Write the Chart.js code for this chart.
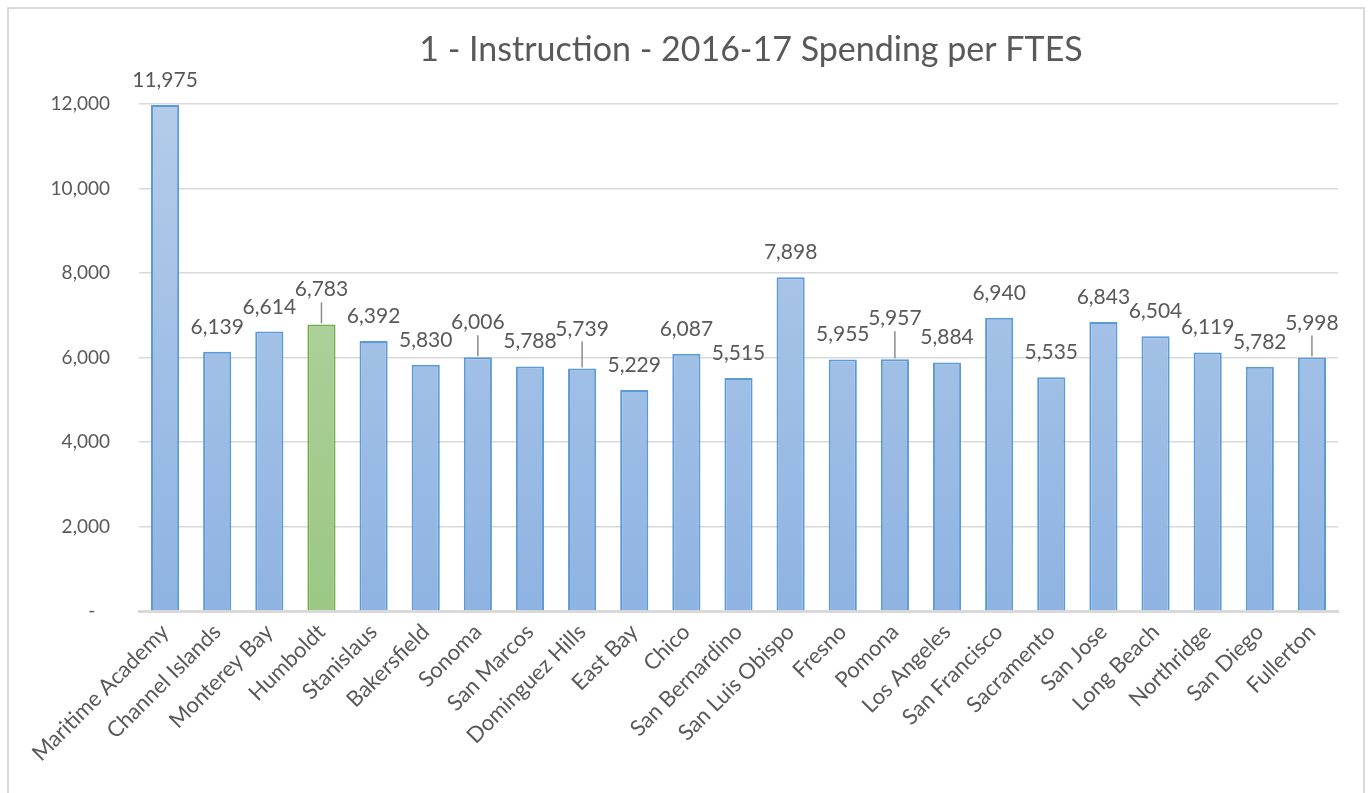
<!DOCTYPE html>
<html>
<head>
<meta charset="utf-8">
<script src="https://cdn.jsdelivr.net/npm/chart.js@4/dist/chart.umd.min.js"></script>
<style>
  html, body { margin: 0; padding: 0; background: #fff; overflow: hidden; }
  #wrap { position: relative; width: 1369px; height: 793px; }
  #frame { position: absolute; left: 7px; top: 7px; width: 1358px; height: 800px; border: 2px solid #d9d9d9; box-sizing: border-box; }
  canvas { position: absolute; left: 0; top: 0; }
</style>
</head>
<body>
<div id="wrap">
  <div id="frame"></div>
  <canvas id="c" width="1369" height="793"></canvas>
</div>
<script>
const chartTitle = '1 - Instruction - 2016-17 Spending per FTES';
const categories = ['Maritime Academy', 'Channel Islands', 'Monterey Bay', 'Humboldt', 'Stanislaus', 'Bakersfield', 'Sonoma', 'San Marcos', 'Dominguez Hills', 'East Bay', 'Chico', 'San Bernardino', 'San Luis Obispo', 'Fresno', 'Pomona', 'Los Angeles', 'San Francisco', 'Sacramento', 'San Jose', 'Long Beach', 'Northridge', 'San Diego', 'Fullerton'];
const spending = [11975, 6139, 6614, 6783, 6392, 5830, 6006, 5788, 5739, 5229, 6087, 5515, 7898, 5955, 5957, 5884, 6940, 5535, 6843, 6504, 6119, 5782, 5998];
const yTickValues = [0, 2000, 4000, 6000, 8000, 10000, 12000];
const highlightedCampus = 'Humboldt';

// label styling: extra lift (px) for labels drawn with a leader line
const leaderLift = { 'Humboldt': 10, 'Sonoma': 10, 'Dominguez Hills': 15, 'Pomona': 16, 'Fullerton': 10 };

const FONT = 'Lato, "Open Sans", sans-serif';
const TEXT = '#595959';

function barFill(ctx) {
  const chart = ctx.chart;
  const area = chart.chartArea;
  if (!area) return '#9dbde6';
  const isHi = categories[ctx.dataIndex] === highlightedCampus;
  const g = chart.ctx.createLinearGradient(0, area.top, 0, area.bottom);
  if (isHi) { g.addColorStop(0, '#b7d6a8'); g.addColorStop(1, '#9cc784'); }
  else { g.addColorStop(0, '#b3cce9'); g.addColorStop(1, '#8fb3e2'); }
  return g;
}

const titlePlugin = {
  id: 'titleDraw',
  afterDraw(chart) {
    const c = chart.ctx;
    c.save();
    c.font = '34px ' + FONT;
    c.fillStyle = TEXT;
    c.textAlign = 'center';
    c.textBaseline = 'middle';
    c.fillText(chartTitle, 751, 50);
    c.restore();
  }
};

const labelPlugin = {
  id: 'barLabels',
  afterDatasetsDraw(chart) {
    const c = chart.ctx;
    const meta = chart.getDatasetMeta(0);
    c.save();
    c.font = '21px ' + FONT;
    c.fillStyle = TEXT;
    c.textAlign = 'center';
    c.textBaseline = 'alphabetic';
    meta.data.forEach((bar, i) => {
      const v = spending[i];
      const lift = leaderLift[categories[i]] || 0;
      const base = bar.y - 18 - lift;
      c.fillText(v.toLocaleString('en-US'), bar.x, base);
      if (lift) {
        c.strokeStyle = '#8c8c8c';
        c.lineWidth = 1.5;
        c.beginPath();
        c.moveTo(bar.x, base + 6);
        c.lineTo(bar.x, bar.y - 1);
        c.stroke();
      }
    });
    c.restore();
  }
};

new Chart(document.getElementById('c'), {
  type: 'bar',
  data: {
    labels: categories,
    datasets: [{
      data: spending,
      backgroundColor: barFill,
      borderColor: categories.map(n => n === highlightedCampus ? '#70ad47' : '#5b9bd5'),
      borderWidth: 2,
      borderSkipped: 'bottom',
      barPercentage: 0.54,
      categoryPercentage: 1.0
    }]
  },
  options: {
    responsive: false,
    animation: false,
    devicePixelRatio: 1,
    layout: { padding: { top: 104, right: 31, left: 0, bottom: 0 } },
    plugins: { legend: { display: false }, tooltip: { enabled: false }, title: { display: false } },
    scales: {
      x: {
        grid: { display: false, drawTicks: false },
        border: { display: true, color: '#d9d9d9', width: 3 },
        ticks: { color: TEXT, font: { family: FONT, size: 22 }, maxRotation: 45, minRotation: 45, autoSkip: false, padding: 8 },
        afterFit(s) { s.height = 793 - 611; }
      },
      y: {
        min: 0, max: 12000,
        afterBuildTicks(s) { s.ticks = yTickValues.map(v => ({ value: v })); },
        grid: { color: '#d9d9d9', lineWidth: 1.5, drawTicks: false },
        border: { display: false },
        ticks: {
          color: TEXT, font: { family: FONT, size: 19 }, padding: 29,
          callback: v => v === 0 ? '-   ' : Number(v).toLocaleString('en-US')
        },
        afterFit(s) { s.width = 139; }
      }
    }
  },
  plugins: [titlePlugin, labelPlugin]
});
</script>
</body>
</html>
